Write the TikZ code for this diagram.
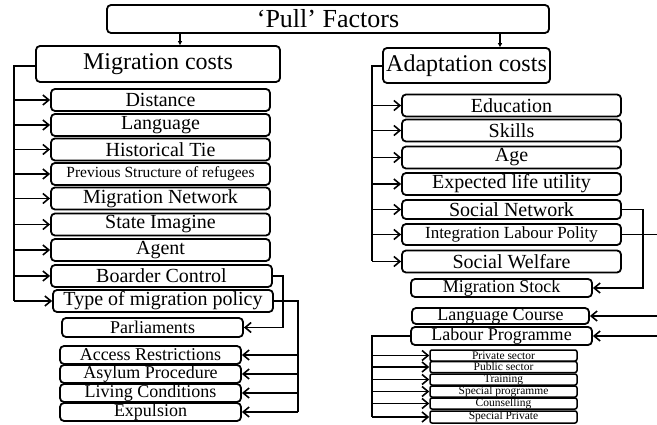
\documentclass[tikz,border=0pt]{standalone}
\usepackage{fontspec}
\setmainfont{Liberation Serif}
\usetikzlibrary{arrows.meta, calc}

\begin{document}
\begin{tikzpicture}[
    x=1pt, y=-1pt,
    box/.style={draw=black, line width=1.8pt, rounded corners=4pt, inner sep=0pt, fill=white},
    item/.style={box, minimum width=219pt, minimum height=22pt, font=\fontsize{20}{20}\selectfont},
    sub/.style={box, minimum width=181pt, minimum height=18pt, font=\fontsize{18}{18}\selectfont},
    tiny/.style={box, line width=1.5pt, rounded corners=2pt, minimum width=147pt, minimum height=11pt, font=\fontsize{11.5}{11.5}\selectfont},
    line/.style={line width=1.8pt},
    arrow/.style={line width=1.8pt, -{Straight Barb[length=6pt, width=10pt, line width=1.6pt]}},
    down/.style={line width=1.2pt, -{Triangle[length=4pt, width=4pt]}}
]
\useasboundingbox (0,0) rectangle (657,425);

% Top
\node[box, minimum width=442pt, minimum height=28pt, font=\fontsize{26}{26}\selectfont] (pull) at (328,19) {‘Pull’ Factors};
\node[box, minimum width=244pt, minimum height=36pt, font=\fontsize{24}{24}\selectfont] (mig) at (158,64) {Migration costs};
\node[box, minimum width=167pt, minimum height=35pt, font=\fontsize{24}{24}\selectfont] (adapt) at (466.5,65.5) {Adaptation costs};

\draw[down] (pull.south -| 180,0) -- (mig.north -| 180,0);
\draw[down] (pull.south -| 500,0) -- (adapt.north -| 500,0);

% Migration costs
\node[item] (dist) at (160.5,100) {Distance};
\node[item] (lang) at (160.5,125) {Language};
\node[item] (hist) at (160.5,149.5) {Historical Tie};
\node[item, font=\fontsize{15.5}{15.5}\selectfont] (prev) at (160.5,174) {Previous Structure of refugees};
\node[item] (net) at (160.5,198.5) {Migration Network};
\node[item] (state) at (160.5,224.5) {State Imagine};
\node[item] (agent) at (160.5,250) {Agent};
\node[item, minimum width=221pt] (border) at (161.5,276) {Boarder Control};
\node[item, minimum width=220pt] (policy) at (163,301) {Type of migration policy};

\node[sub, minimum height=19pt] (parl) at (152.5,327.5) {Parliaments};
\node[sub] (access) at (150.5,355) {Access Restrictions};
\node[sub] (asylum) at (150.5,374) {Asylum Procedure};
\node[sub] (living) at (150.5,393) {Living Conditions};
\node[sub] (expul) at (150.5,412) {Expulsion};

\coordinate (mspine) at (14,66);
\draw[line] (mig.west |- mspine) -- (mspine) -- (mspine |- policy.west);
\foreach \n in {dist, lang, hist, prev, net, state, agent, border, policy}
    \draw[arrow] (mspine |- \n.west) -- (\n.west);

\draw[arrow] (border.east) -- ++(10,0) |- (parl.east);
\coordinate (pspine) at (298,301);
\draw[line] (policy.east) -- (pspine) -- (pspine |- expul.east);
\foreach \n in {access, asylum, living, expul}
    \draw[arrow] (pspine |- \n.east) -- (\n.east);

% Adaptation costs
\node[item] (edu) at (511.5,105.5) {Education};
\node[item] (skill) at (511.5,130.5) {Skills};
\node[item] (age) at (511.5,157.5) {Age};
\node[item] (util) at (511.5,184) {Expected life utility};
\node[item, minimum height=19pt] (social) at (511.5,209.5) {Social Network};
\node[item, minimum height=21pt, font=\fontsize{17}{17}\selectfont] (integ) at (511.5,234.5) {Integration Labour Polity};
\node[item] (welfare) at (511.5,261.5) {Social Welfare};

\node[sub] (stock) at (501.5,288) {Migration Stock};
\node[sub, minimum width=177pt, minimum height=16pt] (course) at (500.5,316) {Language Course};
\node[sub] (labour) at (501.5,336) {Labour Programme};

\node[tiny] (priv) at (503.5,355.5) {Private sector};
\node[tiny] (pub) at (503.5,367) {Public  sector};
\node[tiny] (train) at (503.5,379.5) {Training};
\node[tiny] (spec) at (503.5,391.5) {Special programme};
\node[tiny] (couns) at (503.5,403.5) {Counselling};
\node[tiny, minimum height=12pt] (sprv) at (503.5,417) {Special Private};

\coordinate (aspine) at (372,66);
\draw[line] (adapt.west |- aspine) -- (aspine) -- (aspine |- welfare.west);
\foreach \n in {edu, skill, age, util, social, integ, welfare}
    \draw[arrow] (aspine |- \n.west) -- (\n.west);

\draw[arrow] (social.east) -- (643,0 |- social.east) |- (stock.east);
\coordinate (ispine) at (662,234.5);
\draw[line] (integ.east) -- (ispine) -- (ispine |- labour.east);
\foreach \n in {course, labour}
    \draw[arrow] (ispine |- \n.east) -- (\n.east);

\coordinate (lspine) at (372,336);
\draw[line] (labour.west) -- (lspine) -- (lspine |- sprv.west);
\foreach \n in {priv, pub, train, spec, couns, sprv}
    \draw[arrow] (lspine |- \n.west) -- (\n.west);

\end{tikzpicture}
\end{document}
